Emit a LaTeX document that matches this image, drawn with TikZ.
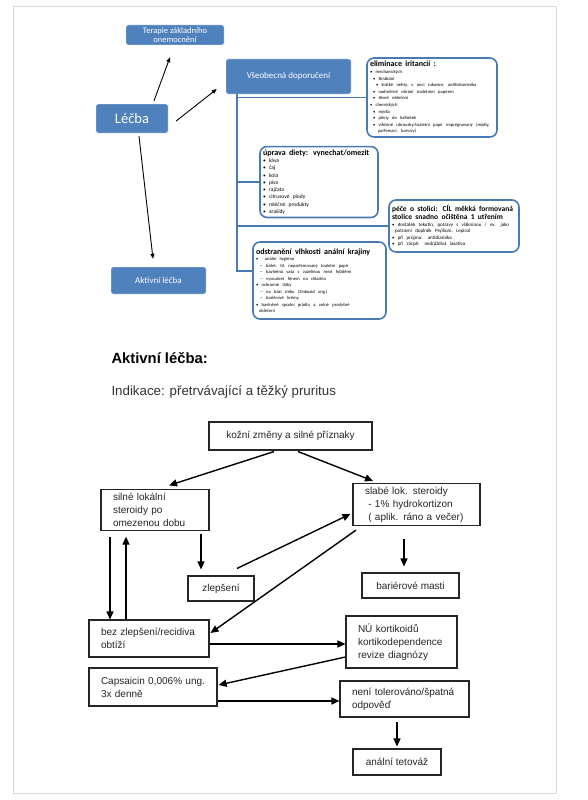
\documentclass[tikz,border=0pt]{standalone}
\usepackage{fontspec}
\setmainfont{Liberation Sans}
\newfontfamily\calfont{Carlito}
\usetikzlibrary{arrows.meta,calc}
\definecolor{ofblue}{RGB}{79,129,189}
\definecolor{ofline}{RGB}{74,122,182}
\newcommand\bul{\textbullet\ }
\begin{document}
\begin{tikzpicture}[x=1pt, y=-1pt,
    bluebox/.style={fill=ofblue, draw=white, rounded corners=1.5pt, text=white,
      align=center, inner sep=1pt},
    callout/.style={draw=ofline, line width=1.6pt, fill=white, rounded corners=7pt,
      align=left, inner sep=3pt, font=\calfont},
    flowbox/.style={draw=black!85, line width=1.1pt, fill=white, align=left,
      inner xsep=12pt, text=black!85, font=\fontsize{10}{13}\selectfont},
    smallarr/.style={-{Triangle[length=5pt,width=4pt]}, line width=0.9pt},
    flowarr/.style={-{Triangle[length=8pt,width=7pt]}, line width=1.4pt},
    tree/.style={draw=ofline, line width=1.4pt}
  ]
  \useasboundingbox (0,0) rectangle (588,800);
  \draw[black!15] (13,6) rectangle (556,793);

  % horni cast: lecba
  \node[bluebox, minimum width=98, minimum height=20,
    font=\calfont\fontsize{8.5}{9}\selectfont] (terapie) at (175,35) {Terapie základního\\onemocnění};
  \node[bluebox, minimum width=125, minimum height=35,
    font=\calfont\fontsize{9}{10}\selectfont] (vseob) at (288.5,76.5) {Všeobecná doporučení};
  \node[bluebox, minimum width=72, minimum height=29,
    font=\calfont\fontsize{14.5}{15}\selectfont] (lecba) at (132,118.5) {Léčba};
  \node[bluebox, minimum width=95, minimum height=27,
    font=\calfont\fontsize{9}{10}\selectfont] (aktivni) at (158.5,280.5) {Aktivní léčba};

  \node[callout, minimum width=130, minimum height=79, text width=124] (elim) at (432,97.5) {%
    {\fontsize{8}{9}\selectfont\bfseries eliminace iritancií :\par}
    \fontsize{4.6}{6.6}\selectfont
    \bul mechanických\\
    \hspace*{3pt}\bul škrábání\\
    \hspace*{6pt}\bul krátké nehty, v noci rukavice, antihistaminika\\
    \hspace*{3pt}\bul nadměrné otírání toaletním papírem\\
    \hspace*{3pt}\bul těsné oblečení\\
    \bul chemických\\
    \hspace*{3pt}\bul mýdla\\
    \hspace*{3pt}\bul pleny do kalhotek\\
    \hspace*{3pt}\bul vlhčené ubrousky/toaletní papír impregnovaný (mýdly,\\
    \hspace*{8pt}parfemací, barvivy)\par};
  \node[callout, minimum width=118, minimum height=70, text width=112] (dieta) at (319,182) {%
    {\fontsize{8}{9}\selectfont\bfseries úprava diety: vynechat/omezit\par}
    \fontsize{5.5}{7.3}\selectfont
    \bul káva\\ \bul čaj\\ \bul kola\\ \bul pivo\\ \bul rajčata\\
    \bul citrusové plody\\ \bul mléčné produkty\\ \bul arašídy\par};
  \node[callout, minimum width=130, minimum height=52, text width=124] (pece) at (454,226) {%
    {\fontsize{7.5}{8.5}\selectfont\bfseries péče o stolici: CÍL měkká formovaná\\
      stolice snadno očištěna 1 utřením\par}
    \fontsize{5}{6.5}\selectfont
    \bul dostatek tekutin, potravy s vlákninou / ev. jako\\
    \hspace*{3pt}potravní doplněk Psyllium, Lepicol\\
    \bul při průjmu: antidiaroika\\
    \bul při zácpě: nedráždivá laxativa\par};
  \node[callout, minimum width=133, minimum height=77, text width=127] (vlhkost) at (319.5,280.5) {%
    {\fontsize{8}{9}\selectfont\bfseries odstranění vlhkosti anální krajiny\par}
    \fontsize{4.6}{6.5}\selectfont
    \bul\ anální hygiena\\
    \hspace*{4pt}-- bidet, tíl, neparfemovaný toaletní papír\\
    \hspace*{4pt}-- bavlněná vata s vazelínou mezi hýžděmi\\
    \hspace*{4pt}-- vysoušení fénem na chladno\\
    \bul ochranné látky\\
    \hspace*{4pt}-- na bázi zinku (Zinkoxid ung.)\\
    \hspace*{4pt}-- bariérové krémy\\
    \bul bavlněné spodní prádlo a volné prodyšné\\
    \hspace*{3pt}oblečení\par};

  \draw[smallarr] ($(lecba.north)+(22,-3)$) -- ($(terapie.south)+(-5,12)$);
  \draw[smallarr] ($(lecba.east)+(8,2.5)$) -- ($(vseob.west)+(-9,12.5)$);
  \draw[smallarr] ($(lecba.south)+(7,3)$) -- ($(aktivni.north)+(-5.5,-8)$);

  % strom doporuceni
  \coordinate (trunk) at ($(vseob.south)+(-51.5,0)$);
  \coordinate (trunkend) at ($(vlhkost.west)+(0,-9.5)$);
  \draw[tree] (trunk) -- (trunk |- trunkend) -- (trunkend);
  \draw[tree] (trunk |- elim.west) -- (elim.west);
  \draw[tree] (trunk |- dieta.west) -- (dieta.west);
  \draw[tree] (trunk |- pece.west) -- (pece.west);

  % dolni cast: aktivni lecba
  \node[anchor=base west, font=\fontsize{14.8}{16}\selectfont\bfseries] (nadpis) at (108,363) {Aktivní léčba:};
  \node[anchor=base west, font=\fontsize{13.3}{15}\selectfont, text=black!80] (indikace) at (108,395) {Indikace: přetrvávající a těžký pruritus};

  \node[flowbox, align=center, minimum width=163, minimum height=28] (kozni) at (290.5,436) {kožní změny a silné příznaky};
  \node[flowbox, text width=84] (silne) at (155,510) {silné lokální\\steroidy po\\omezenou dobu};
  \node[flowbox, text width=103] (slabe) at (416.5,504.5) {slabé lok. steroidy\\\ - 1\% hydrokortizon\\\ ( aplik. ráno a večer)};
  \node[flowbox, align=center, minimum width=66, minimum height=25] (zlepseni) at (221,588.5) {zlepšení};
  \node[flowbox, align=center, minimum width=97, minimum height=25] (barier) at (410.5,585.5) {bariérové masti};
  \node[flowbox, text width=96, minimum height=37] (bez) at (149,638.5) {bez zlepšení/recidiva\\obtíží};
  \node[flowbox, text width=87, minimum height=52] (nu) at (401.5,642) {NÚ kortikoidů\\kortikodependence\\revize diagnózy};
  \node[flowbox, text width=104, minimum height=38] (caps) at (153,687) {Capsaicin 0,006\% ung.\\3x denně};
  \node[flowbox, text width=105, minimum height=36] (neni) at (404.5,699) {není tolerováno/špatná\\odpověď};
  \node[flowbox, align=center, minimum width=88, minimum height=26] (tetovaz) at (397,762) {anální tetováž};

  \draw[flowarr] ($(kozni.south)+(-16.5,1)$) -- ($(silne.north)+(14,-4)$);
  \draw[flowarr] ($(kozni.south)+(7.5,1)$) -- ($(slabe.north)+(-43.5,-2)$);
  \draw[flowarr] ($(silne.south)+(46,3)$) -- ($(zlepseni.north)+(-20,-6)$);
  \draw[flowarr] ($(zlepseni.north)+(16,-7)$) -- ($(slabe.west)+(-2,9.5)$);
  \draw[flowarr] ($(slabe.south)+(-60.5,4)$) -- ($(bez.east)+(1,-5.5)$);
  \draw[flowarr] ($(slabe.south)+(-12.5,13)$) -- ($(barier.north)+(-6.5,-6)$);
  \draw[flowarr] ($(silne.south)+(-45,6)$) -- ($(bez.north)+(-39,0)$);
  \draw[flowarr] ($(bez.north)+(-23,0)$) -- ($(silne.south)+(-29,6)$);
  \draw[flowarr] ($(bez.east)+(0,5.5)$) -- ($(nu.west)+(0,2)$);
  \draw[flowarr] ($(nu.west)+(0,15)$) -- ($(caps.east)+(1,-2)$);
  \draw[flowarr] ($(caps.east)+(0,14)$) -- ($(neni.west)+(0,2)$);
  \draw[flowarr] ($(neni.south)+(-7.5,4)$) -- ($(tetovaz.north)+(0,-2)$);
\end{tikzpicture}
\end{document}
